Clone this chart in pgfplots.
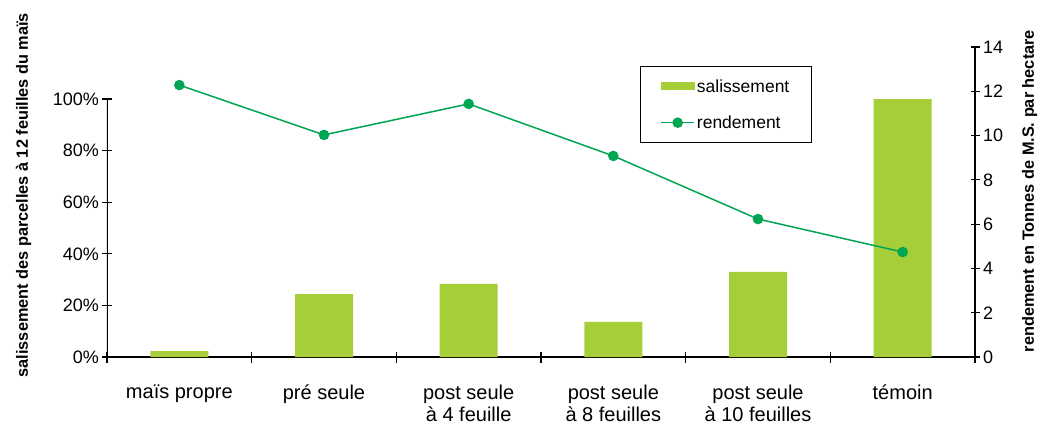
\documentclass[border=0pt]{standalone}
\usepackage{fontspec}
\setmainfont{Liberation Sans}
\usepackage{pgfplots}
\pgfplotsset{compat=1.18}
\definecolor{barc}{RGB}{166,206,57}
\definecolor{linec}{RGB}{0,166,81}
\pgfplotsset{
  every tick label/.append style={font=\fontsize{18}{21}\selectfont},
  /pgf/number format/assume math mode=true,
}
\begin{document}
\begin{tikzpicture}
\begin{axis}[name=ax1, scale only axis, width=868pt, height=310pt,
  xmin=-0.5, xmax=5.5, ymin=0, ymax=120.16,
  axis x line*=bottom, axis y line*=left,
  y axis line style={draw=none},
  x axis line style={line width=1.2pt, -},
  every tick/.style={black, line width=1.2pt},
  tick align=center, major tick length=9pt, minor tick length=11pt,
  ytick={0,20,...,100},
  yticklabel={\pgfmathprintnumber{\tick}\%},
  xtick={0,...,5},
  major x tick style={draw=none},
  minor xtick={-0.5,0.5,1.5,2.5,3.5,4.5,5.5},
  xticklabels={ma\"is propre, pr\'e seule, {post seule\\\`a 4 feuille}, {post seule\\\`a 8 feuilles}, {post seule\\\`a 10 feuilles}, t\'emoin},
  xticklabel style={align=center, font=\fontsize{20}{21.5}\selectfont, yshift=-20pt},
  ylabel={salissement des parcelles \`a 12 feuilles du ma\"is},
  ylabel style={at={(axis description cs:-0.096,0.522)}, anchor=center, font=\bfseries\fontsize{16.3}{18}\selectfont},
]
\addplot[ybar, fill=barc, draw=none, bar width=58pt] coordinates {
(0,2.3) (1,24.4) (2,28.3) (3,13.6) (4,33.0) (5,100)};
\draw[black, line width=1.2pt] (axis cs:-0.5,0) -- (axis cs:-0.5,100.5);
\end{axis}
\begin{axis}[scale only axis, width=868pt, height=310pt,
  xmin=-0.5, xmax=5.5, ymin=0, ymax=14,
  axis x line=none, axis y line*=right,
  y axis line style={line width=1.2pt, -},
  every tick/.style={black, line width=1.2pt},
  tick align=center, major tick length=9pt,
  ytick={0,2,...,14},
  ylabel={rendement en Tonnes de M.S. par hectare},
  ylabel style={at={(axis description cs:1.063,0.535)}, anchor=center, font=\bfseries\fontsize{16.3}{18}\selectfont},
  legend style={at={(rel axis cs:0.614,0.939)}, anchor=north west, draw=black, line width=1pt,
    font=\fontsize{17.5}{19}\selectfont, inner xsep=20pt, inner ysep=11pt, row sep=18pt},
  legend cell align=left,
]
\addlegendimage{legend image code/.code={\fill[barc] (0pt,-3.5pt) rectangle (33pt,3.5pt);}}
\addlegendentry{salissement}
\addplot[linec, line width=1.5pt, mark=*, mark size=4.5pt,
  legend image code/.code={\draw[linec, line width=1.5pt] (0pt,0pt) -- (33pt,0pt); \fill[linec] (16.5pt,0pt) circle (4.5pt);}]
  coordinates {(0,12.28) (1,10.03) (2,11.43) (3,9.08) (4,6.23) (5,4.74)};
\addlegendentry{rendement}
\end{axis}
\pgfresetboundingbox
\path ([shift={(-107pt,-68pt)}]ax1.south west) rectangle ([shift={(66pt,47pt)}]ax1.north east);
\end{tikzpicture}
\end{document}
